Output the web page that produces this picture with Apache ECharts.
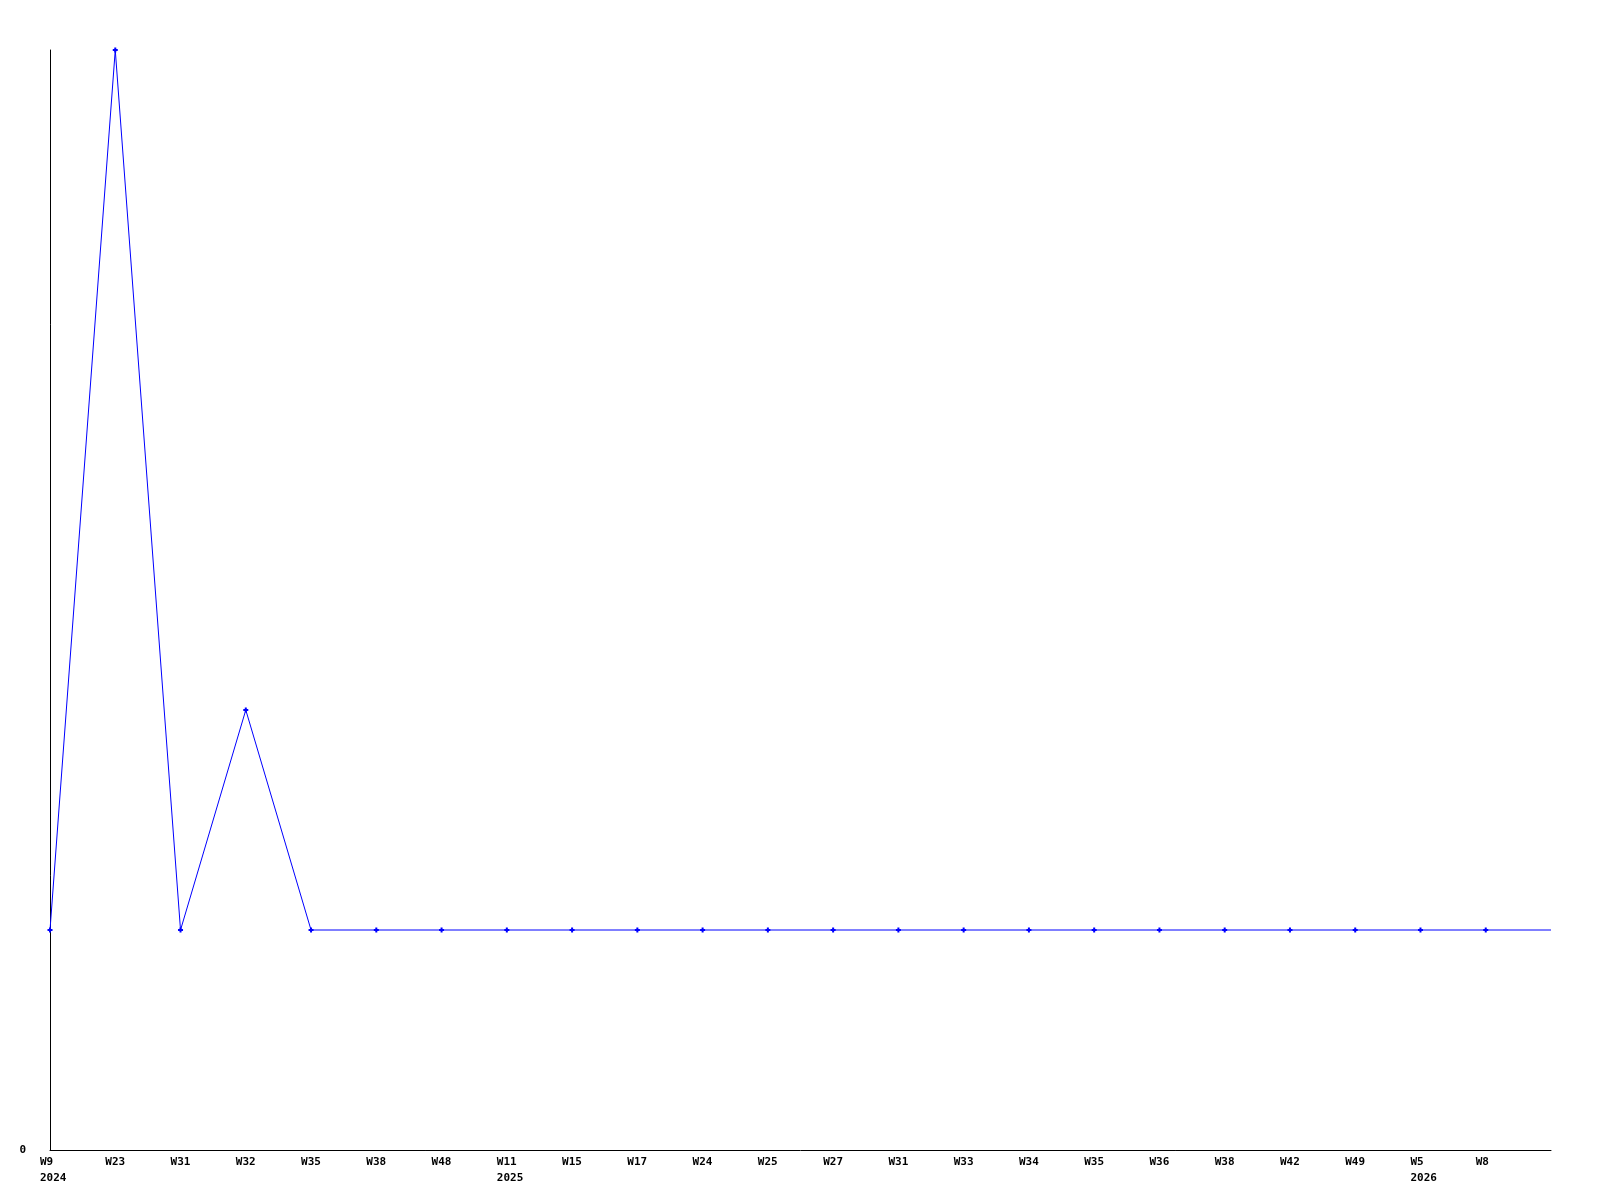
<!DOCTYPE html>
<html>
<head>
<meta charset="utf-8">
<script src="https://cdn.jsdelivr.net/npm/echarts@6/dist/echarts.min.js"></script>
<style>html,body{margin:0;padding:0;background:#fff}#c{width:1600px;height:1200px}</style>
</head>
<body>
<div id="c"></div>
<script>
var weeks = ['W9','W23','W31','W32','W35','W38','W48','W11','W15','W17','W24','W25','W27','W31','W33','W34','W35','W36','W38','W42','W49','W5','W8',''];
var years = ['2024','','','','','','','2025','','','','','','','','','','','','','','2026','',''];
var values = [1,5,1,2,1,1,1,1,1,1,1,1,1,1,1,1,1,1,1,1,1,1,1,1];
var yTicks = [0];

var cats = weeks.map(function(w,i){ return w + '|' + years[i] + '|' + i; });
var seriesData = values.map(function(v,i){
  return i === values.length - 1 ? {value: v, symbol: 'none'} : v;
});
var font = '"DejaVu Sans Mono", monospace';
var chart = echarts.init(document.getElementById('c'), null, {renderer: 'canvas'});
chart.setOption({
  animation: false,
  backgroundColor: '#ffffff',
  grid: {left: 50, top: 50, right: 49, bottom: 50, containLabel: false},
  xAxis: {
    type: 'category',
    data: cats,
    boundaryGap: false,
    axisLine: {lineStyle: {color: '#000', width: 1}},
    axisTick: {show: false},
    splitLine: {show: false},
    axisLabel: {
      interval: 0,
      margin: 4,
      align: 'center',
      formatter: function(v){
        var p = v.split('|');
        var s = '{a|' + p[0] + '}';
        if (p[1]) s += '\n{a|' + p[1] + '}';
        return s;
      },
      rich: {a: {width: 20, align: 'left', fontFamily: font, fontWeight: 'bold', fontSize: 11, lineHeight: 16, color: '#000'}}
    }
  },
  yAxis: {
    type: 'value',
    min: 0, max: 5, interval: 5,
    axisLine: {show: true, lineStyle: {color: '#000', width: 1}},
    axisTick: {show: false},
    splitLine: {show: false},
    axisLabel: {
      margin: 24,
      fontFamily: font, fontWeight: 'bold', fontSize: 11, color: '#000',
      formatter: function(v){ return yTicks.indexOf(v) >= 0 ? String(v) : ''; }
    }
  },
  series: [{
    type: 'line',
    data: seriesData,
    symbol: 'path://M1.5,0H3.5V1.5H5V3.5H3.5V5H1.5V3.5H0V1.5H1.5Z',
    symbolSize: 5,
    showAllSymbol: true,
    lineStyle: {color: '#0000ff', width: 1},
    itemStyle: {color: '#0000ff'},
    clip: false
  }]
});
</script>
</body>
</html>
